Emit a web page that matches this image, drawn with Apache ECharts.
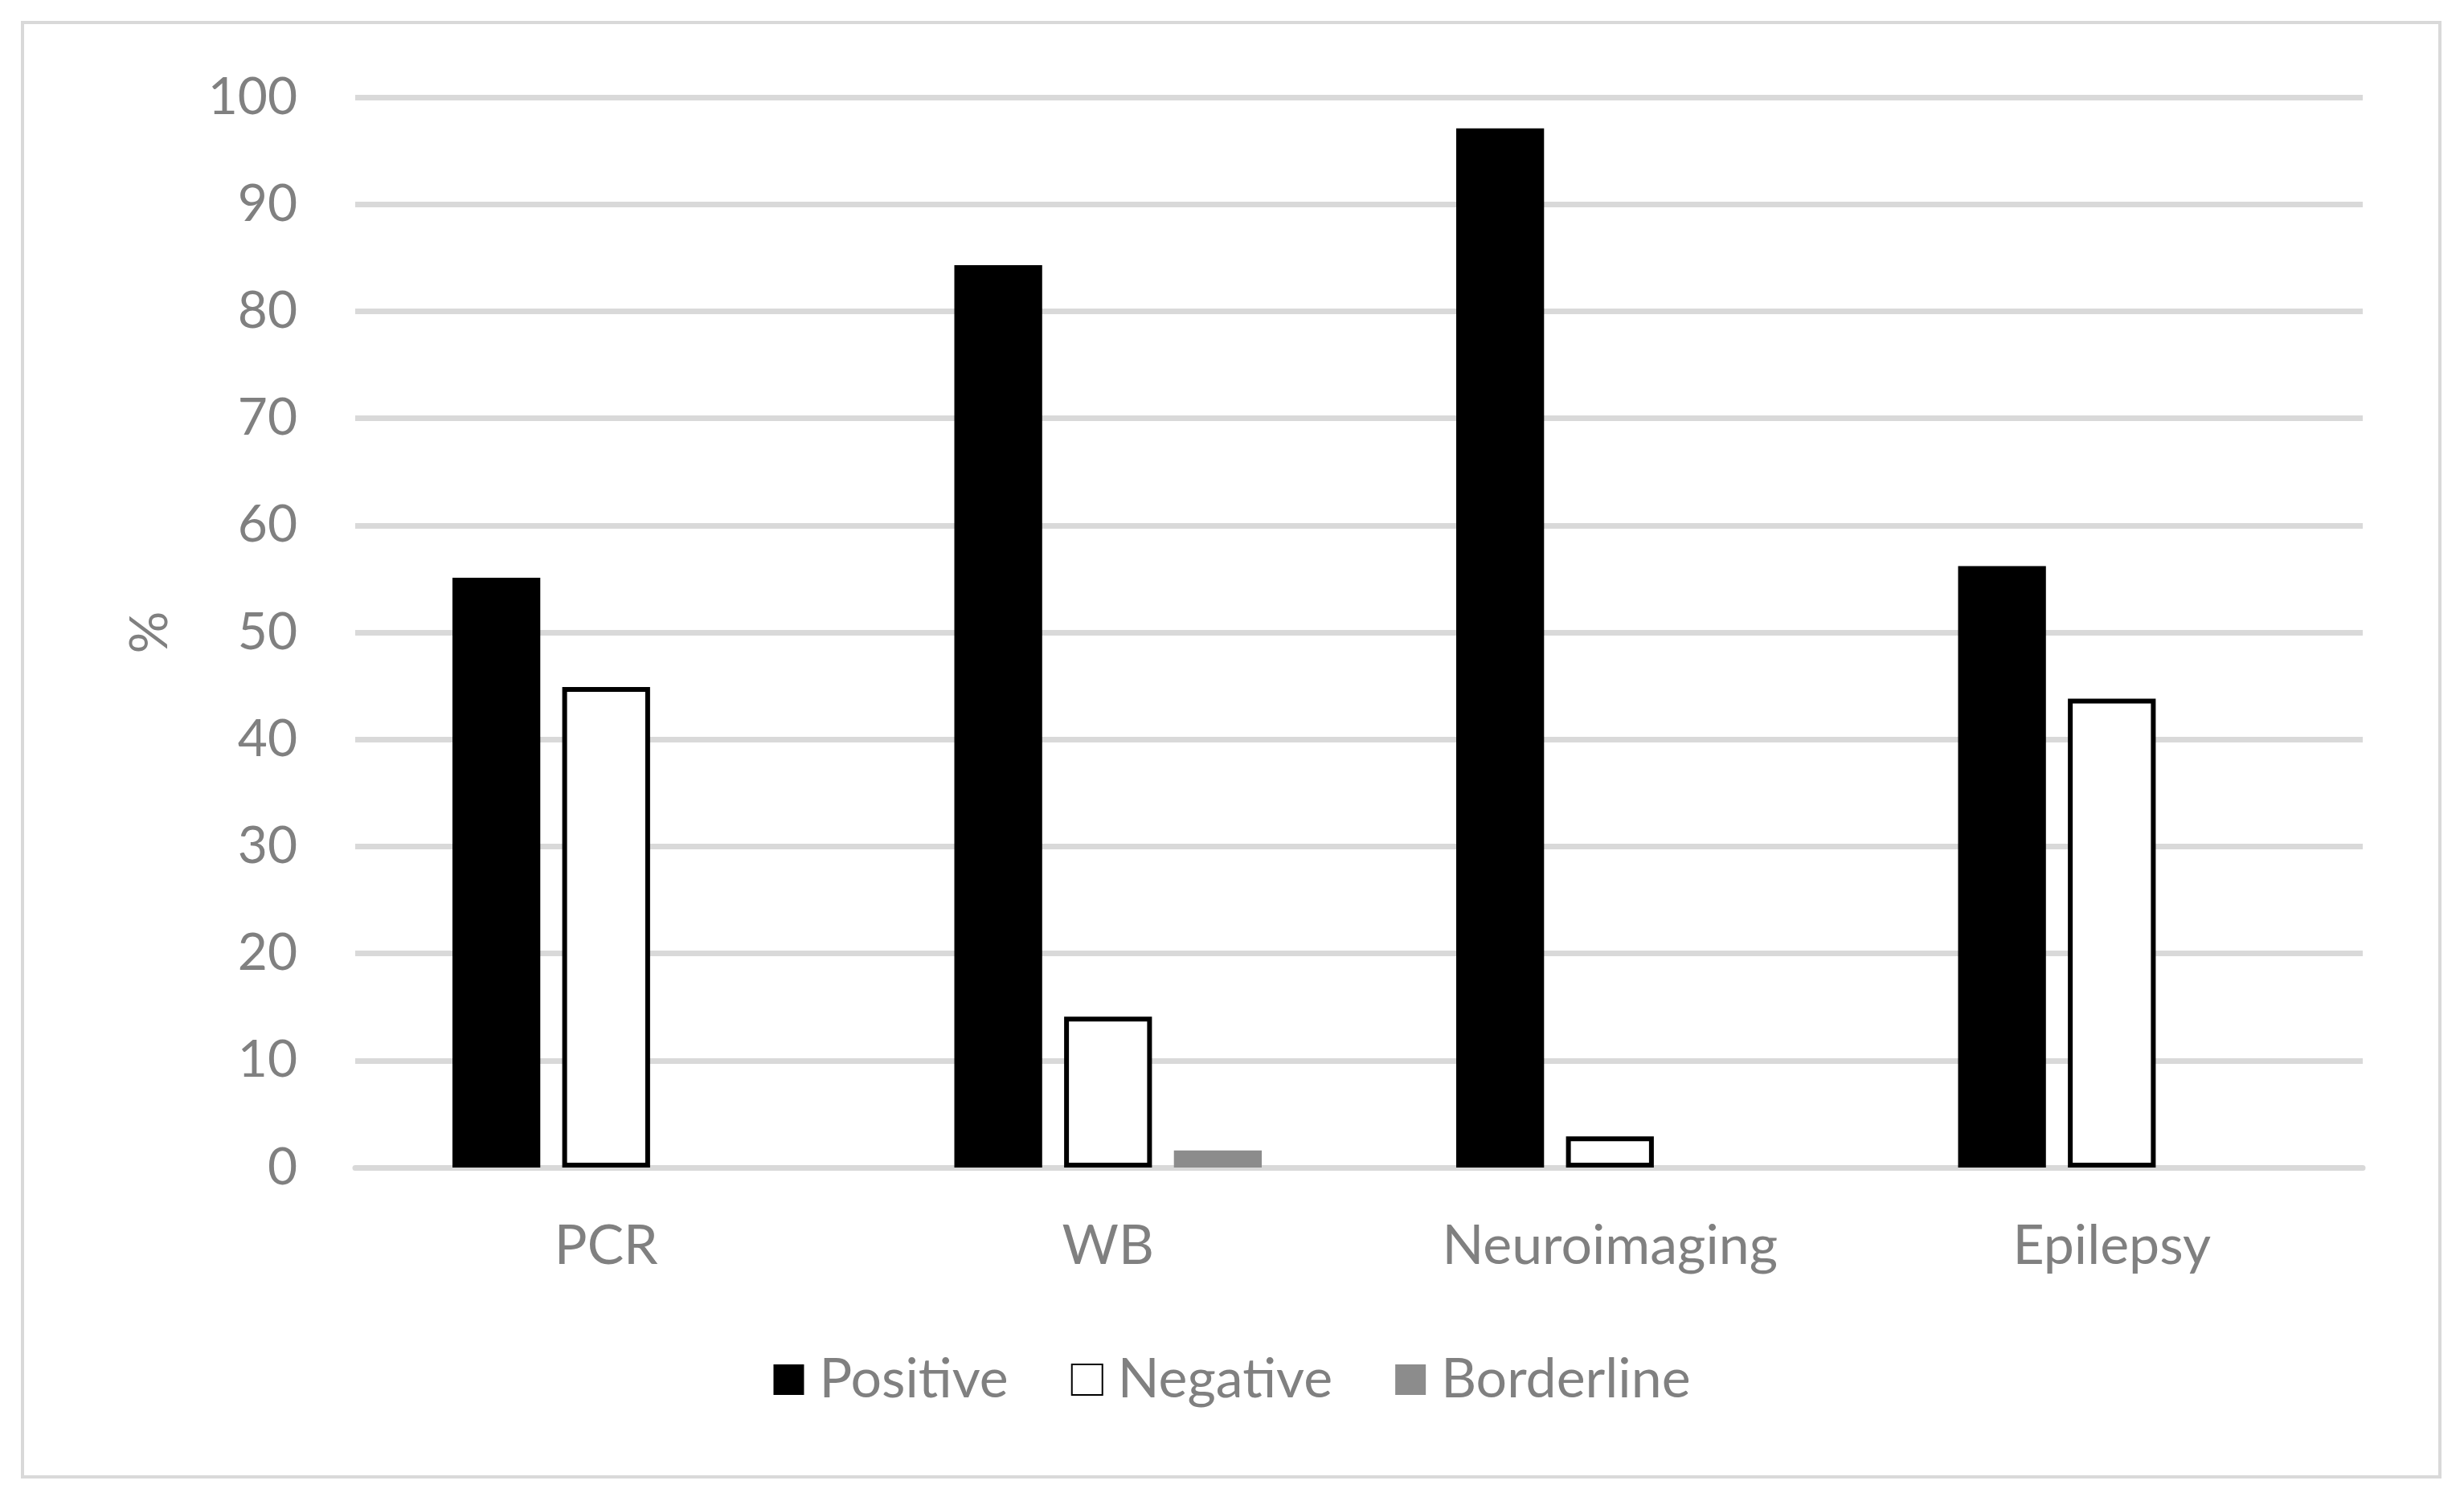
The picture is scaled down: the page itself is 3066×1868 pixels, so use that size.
<!DOCTYPE html>
<html>
<head>
<meta charset="utf-8">
<script src="https://cdn.jsdelivr.net/npm/echarts@6/dist/echarts.min.js"></script>
<style>
html,body{margin:0;padding:0;background:#fff;}
#c{width:3066px;height:1868px;}
</style>
</head>
<body>
<div id="c"></div>
<script>
const categories = ['PCR', 'WB', 'Neuroimaging', 'Epilepsy'];
const positive = [55.1, 84.3, 97.1, 56.2];
const negative = [44.9, 14.1, 2.9, 43.8];
const borderline = [null, 1.6, null, null];
const yTicks = [0, 10, 20, 30, 40, 50, 60, 70, 80, 90, 100];

const FONT = 'Lato';
const GREY = '#808080';
const chart = echarts.init(document.getElementById('c'));
chart.setOption({
  animation: false,
  backgroundColor: '#fff',
  graphic: [{
    type: 'rect',
    shape: {x: 28, y: 28, width: 3008, height: 1810},
    style: {fill: 'none', stroke: '#d9d9d9', lineWidth: 4},
    silent: true
  }],
  grid: {left: 442, right: 126, top: 121, bottom: 415, containLabel: false},
  legend: {
    data: ['Positive', 'Negative', 'Borderline'],
    top: 1678,
    left: 'center',
    itemWidth: 38,
    itemHeight: 38,
    itemGap: 78,
    icon: 'rect',
    textStyle: {color: GREY, fontFamily: FONT, fontSize: 68, padding: [0, 0, 0, 14]}
  },
  xAxis: {
    type: 'category',
    data: categories,
    axisLine: {lineStyle: {color: '#d9d9d9', width: 7}},
    axisTick: {show: false},
    axisLabel: {color: GREY, fontFamily: FONT, fontSize: 68, margin: 64}
  },
  yAxis: {
    type: 'value',
    min: yTicks[0],
    max: yTicks[yTicks.length - 1],
    interval: 10,
    name: '%',
    nameLocation: 'middle',
    nameGap: 222,
    nameRotate: 90,
    nameTextStyle: {color: GREY, fontFamily: FONT, fontSize: 66},
    axisLine: {show: false},
    axisTick: {show: false},
    splitLine: {lineStyle: {color: '#d9d9d9', width: 7}},
    axisLabel: {color: GREY, fontFamily: FONT, fontSize: 64, margin: 72}
  },
  series: [
    {name: 'Positive', type: 'bar', data: positive, barWidth: '17.5%', barGap: '25%',
     itemStyle: {color: '#000'}},
    {name: 'Negative', type: 'bar', data: negative, barWidth: '17.5%', barGap: '25%',
     itemStyle: {color: '#fff', borderColor: '#000', borderWidth: 6}},
    {name: 'Borderline', type: 'bar', data: borderline, barWidth: '17.5%', barGap: '25%',
     itemStyle: {color: '#8c8c8c'}}
  ]
});
</script>
</body>
</html>
